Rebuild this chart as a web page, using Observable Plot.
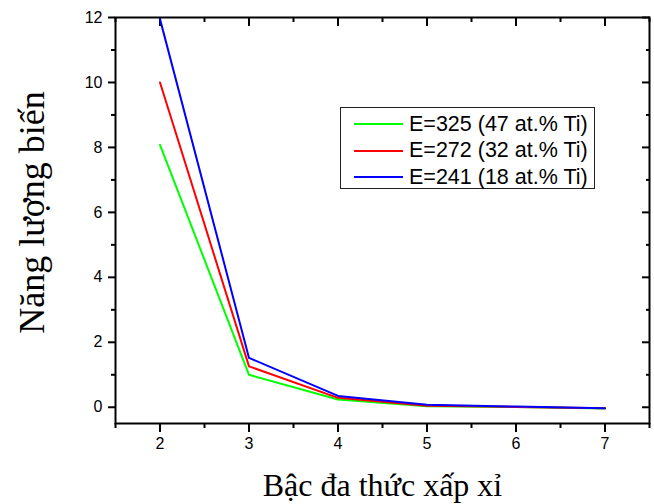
<!DOCTYPE html>
<html>
<head>
<meta charset="utf-8">
<script src="https://cdn.jsdelivr.net/npm/d3@7"></script>
<script src="https://cdn.jsdelivr.net/npm/@observablehq/plot@0.6"></script>
<style>
  body { margin: 0; background: #fff; }
  #wrap { position: relative; width: 654px; height: 504px; }
  #legend {
    position: absolute; left: 340px; top: 107px; width: 255px; height: 82px;
    border: 1px solid #222; box-sizing: border-box; background: #fff;
    font-family: "Liberation Sans", Arial, sans-serif; font-size: 21.5px; color: #000;
  }
  .row { position: absolute; left: 0; height: 26px; display: flex; align-items: center; }
  .sw { width: 49px; height: 2px; margin-left: 13px; margin-right: 6px; }
</style>
</head>
<body>
<div id="wrap"><div id="chart"></div><div id="legend"></div></div>
<script>
const orders = [2, 3, 4, 5, 6, 7];
const e325 = [8.08, 1.0, 0.24, 0.03, 0.01, -0.04];
const e272 = [10.0, 1.26, 0.29, 0.05, 0.01, -0.03];
const e241 = [11.95, 1.52, 0.35, 0.08, 0.02, -0.03];
const seriesNames = ["E=325 (47 at.% Ti)", "E=272 (32 at.% Ti)", "E=241 (18 at.% Ti)"];
const seriesColors = ["#00ff00", "#ff0000", "#0000ff"];
const xMajor = [2, 3, 4, 5, 6, 7];
const xMinor = [1.5, 2.5, 3.5, 4.5, 5.5, 6.5, 7.5];
const yMajor = [0, 2, 4, 6, 8, 10, 12];
const yMinor = [1, 3, 5, 7, 9, 11];
const xTitle = "Bậc đa thức xấp xỉ";
const yTitle = "Năng lượng biến";

const seriesValues = [e325, e272, e241];
const data = seriesValues.flatMap((vals, i) =>
  vals.map((v, j) => ({order: orders[j], value: v, series: seriesNames[i]})));

const blank = () => "";
const intFmt = d3.format("d");
const serif = "'Liberation Serif', 'Times New Roman', serif";
const chart = Plot.plot({
  width: 654,
  height: 504,
  marginLeft: 115,
  marginRight: 5,
  marginTop: 17,
  marginBottom: 81,
  style: {fontFamily: "'Liberation Sans', Arial, sans-serif", fontSize: "16px", color: "#000", background: "#fff"},
  x: {domain: [1.5, 7.5]},
  y: {domain: [-0.5, 12]},
  color: {domain: seriesNames, range: seriesColors},
  marks: [
    // bottom axis
    Plot.axisX({ticks: xMajor, tickSize: 9, tickPadding: 5, strokeWidth: 2, fontSize: 16, tickFormat: intFmt, label: null}),
    Plot.axisX({ticks: xMinor, tickSize: 5, strokeWidth: 2, tickFormat: blank, label: null}),
    // top axis (inward)
    Plot.axisX({anchor: "top", ticks: xMajor, tickSize: 8, dy: 8, strokeWidth: 2, tickFormat: blank, label: null}),
    Plot.axisX({anchor: "top", ticks: xMinor, tickSize: 4, dy: 4, strokeWidth: 2, tickFormat: blank, label: null}),
    // left axis
    Plot.axisY({ticks: yMajor, tickSize: 7, tickPadding: 6, strokeWidth: 2, fontSize: 16, tickFormat: intFmt, label: null}),
    Plot.axisY({ticks: yMinor, tickSize: 4, strokeWidth: 2, tickFormat: blank, label: null}),
    // right axis (inward)
    Plot.axisY({anchor: "right", ticks: yMajor, tickSize: 8, dx: -8, strokeWidth: 2, tickFormat: blank, label: null}),
    Plot.axisY({anchor: "right", ticks: yMinor, tickSize: 4, dx: -4, strokeWidth: 2, tickFormat: blank, label: null}),
    Plot.frame({stroke: "#000", strokeWidth: 2}),
    Plot.line(data, {x: "order", y: "value", z: "series", stroke: "series", strokeWidth: 2}),
    Plot.text([xTitle], {frameAnchor: "bottom", lineAnchor: "middle", textAnchor: "middle", dy: 62, fontSize: 32, fontFamily: serif, fill: "#000"}),
    Plot.text([yTitle], {frameAnchor: "left", lineAnchor: "middle", textAnchor: "middle", rotate: -90, dx: -83, dy: -8, fontSize: 36, fontFamily: serif, fill: "#000"})
  ]
});
document.getElementById("chart").appendChild(chart);

const legend = document.getElementById("legend");
seriesNames.forEach((name, i) => {
  const row = document.createElement("div");
  row.className = "row";
  row.style.top = (3 + i * 26.5) + "px";
  const sw = document.createElement("div");
  sw.className = "sw";
  sw.style.background = seriesColors[i];
  const t = document.createElement("span");
  t.textContent = name;
  row.appendChild(sw);
  row.appendChild(t);
  legend.appendChild(row);
});
</script>
</body>
</html>
